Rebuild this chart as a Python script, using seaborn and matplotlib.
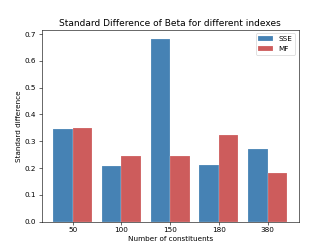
import matplotlib
matplotlib.use("Agg")
import matplotlib.pyplot as plt
import seaborn as sns
import pandas as pd

categories = ["50", "100", "150", "180", "380"]
sse_values = [0.344, 0.207, 0.682, 0.210, 0.271]
mf_values = [0.348, 0.245, 0.244, 0.324, 0.180]
series_names = ["SSE", "MF"]

df = pd.DataFrame({
    "constituents": categories * 2,
    "value": sse_values + mf_values,
    "index": [series_names[0]] * len(categories) + [series_names[1]] * len(categories),
})

fig, ax = plt.subplots(figsize=(6.4, 4.8), dpi=51.9)
sns.barplot(data=df, x="constituents", y="value", hue="index", order=categories,
            palette=["steelblue", "indianred"], saturation=1, width=0.8,
            edgecolor=(1, 1, 1, 0.5), linewidth=0.5, ax=ax)
ax.set_xlim(-0.64, len(categories) - 1 + 0.64)
ax.set_title("Standard Difference of Beta for different indexes", fontsize=12.5)
ax.set_xlabel("Number of constituents")
ax.set_ylabel("Standard difference")
ax.legend(loc="upper right", title=None)
fig.savefig("out.png", dpi=51.9)
